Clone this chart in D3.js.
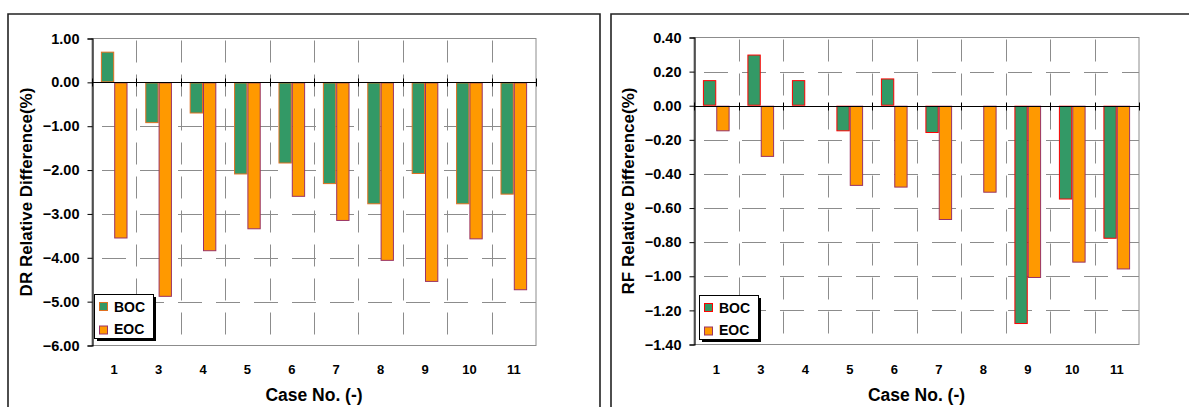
<!DOCTYPE html>
<html>
<head>
<meta charset="utf-8">
<script src="https://cdn.jsdelivr.net/npm/d3@7"></script>
<style>
  html, body { margin: 0; padding: 0; background: #fff; }
  svg { display: block; font-family: "Liberation Sans", Arial, sans-serif; font-weight: bold; }
</style>
</head>
<body>
<svg id="chart" width="1189" height="407"></svg>
<script>
// Case numbers on the category axis
const cases = ["1", "3", "4", "5", "6", "7", "8", "9", "10", "11"];
const seriesNames = ["BOC", "EOC"];

// DR relative difference (%)
const drBOC = [0.70, -0.93, -0.71, -2.10, -1.85, -2.32, -2.78, -2.09, -2.78, -2.56];
const drEOC = [-3.56, -4.89, -3.85, -3.35, -2.61, -3.16, -4.07, -4.55, -3.58, -4.74];
const drTicks = [1, 0, -1, -2, -3, -4, -5, -6];

// RF relative difference (%)
const rfBOC = [0.15, 0.30, 0.15, -0.15, 0.16, -0.16, 0.00, -1.28, -0.55, -0.78];
const rfEOC = [-0.15, -0.30, 0.00, -0.47, -0.48, -0.67, -0.51, -1.01, -0.92, -0.96];
const rfTicks = [0.4, 0.2, 0, -0.2, -0.4, -0.6, -0.8, -1.0, -1.2, -1.4];

const svg = d3.select("#chart");

function drawPanel(opt) {
  const g = svg.append("g");

  // outer chart frame (open at the bottom edge of the page)
  g.append("path")
    .attr("d", `M${opt.frame[0]},420 V${opt.frame[1]} H${opt.frame[2]} V420`)
    .attr("fill", "none").attr("stroke", "#222").attr("stroke-width", 1.6);

  const [x0, x1] = opt.xr;
  const [yTop, yBot] = opt.yr;

  const x = d3.scaleBand().domain(cases).range([x0, x1]).padding(0);
  const xs = d3.scaleBand().domain(seriesNames).range([0, x.bandwidth()])
    .paddingInner(0).paddingOuter(0.667);
  const y = d3.scaleLinear().domain(opt.domain).range([yTop, yBot]);

  // plot-area border
  g.append("rect")
    .attr("x", x0).attr("y", yTop).attr("width", x1 - x0).attr("height", yBot - yTop)
    .attr("fill", "none").attr("stroke", "#8c8c8c").attr("stroke-width", 1);

  // horizontal dashed gridlines
  g.append("g").selectAll("line")
    .data(opt.ticks.filter(t => t !== 0 && t !== opt.domain[0] && t !== opt.domain[1]))
    .join("line")
    .attr("x1", x0).attr("x2", x1)
    .attr("y1", d => Math.round(y(d)) + 0.5).attr("y2", d => Math.round(y(d)) + 0.5)
    .attr("stroke", "#8c8c8c").attr("stroke-width", 1)
    .attr("stroke-dasharray", "24,14").attr("stroke-dashoffset", -10);

  // vertical dashed gridlines at category boundaries
  g.append("g").selectAll("line")
    .data(cases.slice(1))
    .join("line")
    .attr("x1", d => Math.round(x(d)) + 0.5).attr("x2", d => Math.round(x(d)) + 0.5)
    .attr("y1", yTop).attr("y2", yBot)
    .attr("stroke", "#8c8c8c").attr("stroke-width", 1)
    .attr("stroke-dasharray", "22,12").attr("stroke-dashoffset", -2);

  // bars
  const rows = cases.map((c, i) => ({ c, BOC: opt.boc[i], EOC: opt.eoc[i] }));
  const grp = g.append("g").selectAll("g").data(rows).join("g")
    .attr("transform", d => `translate(${x(d.c)},0)`);
  seriesNames.forEach(s => {
    grp.filter(d => d[s] !== 0).append("rect")
      .attr("x", xs(s) + 0.5)
      .attr("width", xs.bandwidth() - 1)
      .attr("y", d => Math.min(y(d[s]), y(0)) + 0.5)
      .attr("height", d => Math.max(0, Math.abs(y(d[s]) - y(0)) - 1))
      .attr("fill", opt.fill[s])
      .attr("stroke", opt.stroke[s]).attr("stroke-width", 1);
  });

  // category axis drawn across zero
  const y0 = Math.round(y(0)) + 0.5;
  g.append("line").attr("x1", x0).attr("x2", x1).attr("y1", y0).attr("y2", y0)
    .attr("stroke", "#000").attr("stroke-width", 1.2);
  g.append("g").selectAll("line").data(cases.concat(["end"])).join("line")
    .attr("x1", d => Math.round(d === "end" ? x1 : x(d)) + 0.5)
    .attr("x2", d => Math.round(d === "end" ? x1 : x(d)) + 0.5)
    .attr("y1", y0 - 4).attr("y2", y0 + 4)
    .attr("stroke", "#000").attr("stroke-width", 1);

  // value axis
  const yAxis = d3.axisLeft(y).tickValues(opt.ticks).tickSize(5).tickPadding(8)
    .tickFormat(d3.format(".2f"));
  const ya = g.append("g").attr("transform", `translate(${x0 + 0.5},0)`).call(yAxis);
  ya.select(".domain").attr("stroke", "#000").attr("stroke-width", 1.2);
  ya.selectAll(".tick line").attr("stroke", "#000");
  ya.selectAll("text").attr("font-size", 14.5).attr("font-weight", "bold")
    .attr("font-family", "'Liberation Sans', Arial, sans-serif").attr("fill", "#000");

  // category labels
  g.append("g").selectAll("text").data(cases).join("text")
    .attr("x", d => x(d) + x.bandwidth() / 2).attr("y", 374)
    .attr("text-anchor", "middle").attr("font-size", 13).text(d => d);

  // axis titles
  g.append("text").attr("x", (x0 + x1) / 2).attr("y", 401)
    .attr("text-anchor", "middle").attr("font-size", 17.5).text("Case No. (-)");
  g.append("text")
    .attr("transform", `translate(${opt.titleX},${(yTop + yBot) / 2}) rotate(-90)`)
    .attr("text-anchor", "middle").attr("dominant-baseline", "central")
    .attr("font-size", 17).text(opt.title);

  // legend
  const [lx, ly] = opt.legend;
  const lw = 59, lh = 44;
  g.append("rect").attr("x", lx + 3).attr("y", ly + 3).attr("width", lw).attr("height", lh)
    .attr("fill", "#000");
  g.append("rect").attr("x", lx + 0.5).attr("y", ly + 0.5).attr("width", lw).attr("height", lh)
    .attr("fill", "#fff").attr("stroke", "#000").attr("stroke-width", 1);
  seriesNames.forEach((s, i) => {
    g.append("rect").attr("x", lx + 5.5).attr("y", ly + 8.5 + i * 23.5)
      .attr("width", 8).attr("height", 8)
      .attr("fill", opt.fill[s]).attr("stroke", opt.stroke[s]).attr("stroke-width", 1);
    g.append("text").attr("x", lx + 20).attr("y", ly + 17.5 + i * 22)
      .attr("font-size", 14).text(s);
  });
}

drawPanel({
  frame: [8, 14, 600],
  xr: [92, 536], yr: [38.5, 345.5], domain: [1, -6], ticks: drTicks,
  boc: drBOC, eoc: drEOC,
  fill: { BOC: "#339966", EOC: "#FF9900" },
  stroke: { BOC: "#E07020", EOC: "#993366" },
  title: "DR Relative Difference(%)", titleX: 26,
  legend: [94, 294]
});

drawPanel({
  frame: [611, 14, 1200],
  xr: [694, 1139], yr: [37.5, 344.5], domain: [0.4, -1.4], ticks: rfTicks,
  boc: rfBOC, eoc: rfEOC,
  fill: { BOC: "#339966", EOC: "#FF9900" },
  stroke: { BOC: "#FF0000", EOC: "#993366" },
  title: "RF Relative Difference(%)", titleX: 628,
  legend: [699, 295]
});
</script>
</body>
</html>
